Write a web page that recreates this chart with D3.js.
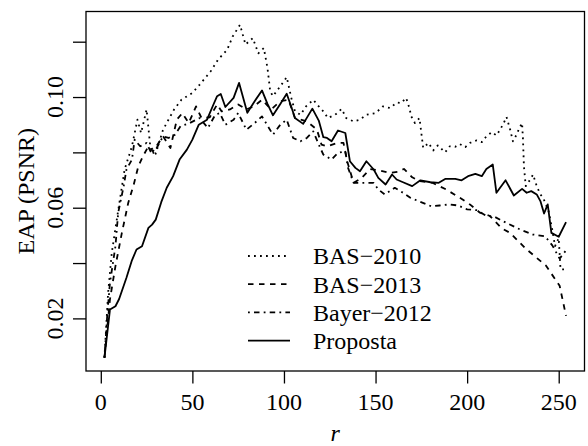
<!DOCTYPE html>
<html>
<head>
<meta charset="utf-8">
<script src="https://cdn.jsdelivr.net/npm/d3@7"></script>
</head>
<body style="margin:0">
<svg id="chart" width="588" height="446"></svg>
<script>
// values, one r array per series
var bas2010R = [2, 4, 6, 9, 13, 17, 20, 22, 25, 27, 30, 34, 40, 44, 50, 54, 60, 64, 69, 72, 76, 79, 83, 86, 89, 91, 92.5, 94, 98, 101.5, 104, 106, 109, 112, 116, 119, 121.5, 124, 128, 131.5, 134, 138, 141.5, 145, 150, 154, 158, 161.5, 164, 166.7, 168.5, 169.5, 171.5, 174, 175, 176, 179, 181.5, 184, 188, 190.5, 193.5, 196, 199, 201.5, 205, 208, 210.5, 213.5, 216, 218, 220, 221.5, 223.5, 225, 227, 228.5, 230, 230.5, 231, 232, 234.5, 236, 238, 240, 241.5, 244.5, 246.5, 248, 250, 251, 254];
var bas2010V = [0.0058, 0.0293, 0.0437, 0.0569, 0.0738, 0.0822, 0.0918, 0.087, 0.0955, 0.0822, 0.0795, 0.0882, 0.0955, 0.099, 0.1015, 0.1045, 0.1093, 0.1135, 0.1171, 0.1219, 0.1261, 0.119, 0.1213, 0.1158, 0.1177, 0.1105, 0.102, 0.1003, 0.1039, 0.1072, 0.0997, 0.0948, 0.0936, 0.0966, 0.099, 0.0966, 0.0948, 0.0924, 0.0936, 0.0957, 0.0924, 0.0912, 0.0918, 0.0936, 0.0942, 0.0966, 0.096, 0.098, 0.0978, 0.0997, 0.096, 0.093, 0.0906, 0.0924, 0.087, 0.0816, 0.0834, 0.0807, 0.0825, 0.08, 0.0822, 0.082, 0.083, 0.0819, 0.0834, 0.0843, 0.0837, 0.0858, 0.0873, 0.0861, 0.0882, 0.0906, 0.0928, 0.0882, 0.084, 0.0864, 0.0888, 0.0906, 0.0846, 0.075, 0.0678, 0.0702, 0.072, 0.0678, 0.0648, 0.0636, 0.0587, 0.052, 0.0461, 0.049, 0.0377, 0.0377];

var bas2013R = [2, 5, 8, 11.5, 15, 18, 20.5, 23, 26, 28.5, 31.5, 34, 38, 41.5, 44.5, 48, 52, 55, 59.5, 63.5, 66, 70.5, 75, 79.5, 83.5, 88, 93, 98, 102.5, 106, 112.5, 118, 120.5, 123.5, 129, 132.5, 134.5, 138, 142, 147, 152, 158, 162, 165.5, 170, 174, 181, 188.5, 196, 201.5, 207, 212.5, 219, 223.5, 232, 243, 250.5, 254];
var bas2013V = [0.0058, 0.0269, 0.0389, 0.0509, 0.0618, 0.0684, 0.075, 0.0786, 0.0822, 0.0804, 0.0834, 0.0858, 0.0816, 0.0918, 0.0942, 0.0906, 0.0966, 0.0924, 0.0927, 0.0973, 0.0948, 0.0955, 0.0973, 0.0955, 0.0966, 0.099, 0.0955, 0.0985, 0.099, 0.0924, 0.0912, 0.0882, 0.0828, 0.0822, 0.0834, 0.0834, 0.0768, 0.069, 0.0705, 0.074, 0.0735, 0.0726, 0.073, 0.074, 0.071, 0.0696, 0.069, 0.0666, 0.0636, 0.0612, 0.0582, 0.057, 0.0525, 0.0509, 0.0452, 0.0391, 0.0318, 0.0209];

var bayerR = [2, 3.5, 5, 8, 9.5, 12.5, 14, 17, 18.5, 21.5, 25, 28, 30.5, 34, 37, 40.5, 43.5, 48.5, 54, 58.5, 62.5, 65, 68, 72.5, 75, 79.5, 84, 88, 94, 98, 101.5, 105, 109, 112.5, 116, 119, 121.5, 126, 129.5, 133.5, 135, 138, 143.5, 149, 151.5, 155, 160.5, 165, 169, 173.5, 180.5, 185, 190.5, 195, 200, 205.5, 210, 215, 221.5, 229, 236, 242.5, 246.5, 250.5, 254];
var bayerV = [0.0058, 0.021, 0.0329, 0.0461, 0.0582, 0.0678, 0.0738, 0.0774, 0.0846, 0.0822, 0.0834, 0.0792, 0.0816, 0.0858, 0.0852, 0.0864, 0.0894, 0.0906, 0.0924, 0.0888, 0.0936, 0.0942, 0.09, 0.0918, 0.0942, 0.0882, 0.0906, 0.093, 0.0864, 0.09, 0.0918, 0.0852, 0.084, 0.0852, 0.0876, 0.0828, 0.0792, 0.0774, 0.0798, 0.0804, 0.0744, 0.069, 0.069, 0.069, 0.0666, 0.0648, 0.0672, 0.0654, 0.0636, 0.0624, 0.0605, 0.0608, 0.0612, 0.0608, 0.0594, 0.0591, 0.0572, 0.0567, 0.0545, 0.0521, 0.0503, 0.0497, 0.0464, 0.0416, 0.0446];

var propostaR = [2, 5, 8, 10, 14, 17, 19.5, 22.5, 26, 28, 30, 33, 36, 39.5, 43, 47, 50, 53.5, 58, 61.5, 63.5, 65.5, 68, 72.5, 75.5, 80, 84, 88, 91, 94, 98, 101.5, 104, 106, 110.5, 115.5, 119, 121.5, 123.5, 126, 129.5, 133.5, 136, 139, 141.5, 145, 149, 151.5, 155.5, 159, 161.5, 165, 170, 174.5, 180, 184.5, 188, 193.5, 197, 200.5, 204.5, 208, 210.5, 214, 216, 221, 225.5, 230, 232.5, 235, 238, 240, 242, 244, 246, 250, 254];
var propostaV = [0.0058, 0.0232, 0.0244, 0.027, 0.0347, 0.041, 0.0449, 0.0461, 0.0527, 0.0539, 0.0557, 0.062, 0.0672, 0.0714, 0.0774, 0.081, 0.0846, 0.09, 0.0918, 0.0973, 0.1003, 0.1011, 0.0964, 0.0997, 0.1051, 0.0943, 0.0985, 0.1024, 0.0975, 0.0934, 0.0975, 0.1012, 0.0965, 0.0924, 0.0903, 0.0958, 0.0915, 0.0855, 0.0852, 0.084, 0.0879, 0.087, 0.0768, 0.0744, 0.0732, 0.0768, 0.0738, 0.0708, 0.0684, 0.072, 0.0702, 0.0692, 0.0678, 0.0699, 0.0692, 0.069, 0.0704, 0.0704, 0.0699, 0.0714, 0.0722, 0.0714, 0.074, 0.0756, 0.0654, 0.0699, 0.0644, 0.0668, 0.0654, 0.066, 0.0648, 0.0624, 0.0579, 0.0612, 0.0509, 0.0495, 0.0548];

var seriesNames = ["BAS\u22122010", "BAS\u22122013", "Bayer\u22122012", "Proposta"];
var xTicks = [0, 50, 100, 150, 200, 250];
var yTicks = [0.02, 0.04, 0.06, 0.08, 0.10, 0.12];
var yLabelled = [0.02, 0.06, 0.10];

var fontFamily = "Liberation Serif";
var fontSize = 24;

function zip(rs, vs) {
	return rs.map(function(r, i) { return { r: r, v: vs[i] }; });
}

var series = [
	{ name: seriesNames[0], data: zip(bas2010R, bas2010V), dash: "1.8 4.2" },
	{ name: seriesNames[1], data: zip(bas2013R, bas2013V), dash: "5.5 5.5" },
	{ name: seriesNames[2], data: zip(bayerR, bayerV), dash: "1.8 4.2 5.5 4.2" },
	{ name: seriesNames[3], data: zip(propostaR, propostaV), dash: null }
];

var svg = d3.select("#chart");
var box = { left: 86, right: 584.5, top: 11.5, bottom: 371 };

// R style: 4% padding around the data range
var allR = [].concat(bas2010R, bas2013R, bayerR, propostaR);
var allV = [].concat(bas2010V, bas2013V, bayerV, propostaV);
var rExt = d3.extent(allR), vExt = d3.extent(allV);
var rPad = (rExt[1] - rExt[0]) * 0.04, vPad = (vExt[1] - vExt[0]) * 0.04;

var x = d3.scaleLinear().domain([rExt[0] - rPad, rExt[1] + rPad]).range([box.left, box.right]);
var y = d3.scaleLinear().domain([vExt[0] - vPad, vExt[1] + vPad]).range([box.bottom, box.top]);

var line = d3.line()
	.x(function(d) { return x(d.r); })
	.y(function(d) { return y(d.v); });

var g_lines = svg.append("g").attr("id", "lines");
series.forEach(function(s) {
	g_lines.append("path")
		.attr("d", line(s.data))
		.attr("fill", "none")
		.attr("stroke", "#000")
		.attr("stroke-width", 1.8)
		.attr("stroke-linejoin", "round")
		.attr("stroke-dasharray", s.dash);
});

// axes: ticks drawn by d3, labels written as plain text elements
var xAxis = svg.append("g")
	.attr("transform", "translate(0," + box.bottom + ")")
	.call(d3.axisBottom(x).tickValues(xTicks).tickSize(12.5).tickSizeOuter(0).tickFormat(""));
xAxis.select(".domain").remove();
xAxis.selectAll("line").attr("stroke-width", 1.3);

svg.append("g").selectAll("text").data(xTicks).enter().append("text")
	.attr("x", function(d) { return x(d); })
	.attr("y", box.bottom + 39)
	.attr("text-anchor", "middle")
	.attr("font-family", fontFamily)
	.attr("font-size", fontSize)
	.text(function(d) { return d; });

var yAxis = svg.append("g")
	.attr("transform", "translate(" + box.left + ",0)")
	.call(d3.axisLeft(y).tickValues(yTicks).tickSize(13).tickSizeOuter(0).tickFormat(""));
yAxis.select(".domain").remove();
yAxis.selectAll("line").attr("stroke-width", 1.3);

svg.append("g").selectAll("text").data(yLabelled).enter().append("text")
	.attr("transform", function(d) { return "translate(" + (box.left - 23) + "," + y(d) + ") rotate(-90)"; })
	.attr("text-anchor", "middle")
	.attr("font-family", fontFamily)
	.attr("font-size", fontSize)
	.text(function(d) { return d3.format(".2f")(d); });

svg.append("rect")
	.attr("x", box.left).attr("y", box.top)
	.attr("width", box.right - box.left).attr("height", box.bottom - box.top)
	.attr("fill", "none").attr("stroke", "#000").attr("stroke-width", 1.3);

svg.append("text")
	.attr("transform", "translate(34," + ((box.top + box.bottom) / 2) + ") rotate(-90)")
	.attr("text-anchor", "middle")
	.attr("font-family", fontFamily)
	.attr("font-size", fontSize)
	.text("EAP (PSNR)");

svg.append("text")
	.attr("x", (box.left + box.right) / 2).attr("y", 441)
	.attr("text-anchor", "middle")
	.attr("font-family", fontFamily)
	.attr("font-size", fontSize)
	.attr("font-style", "italic")
	.text("r");

// legend
var legend = svg.append("g").attr("id", "legend");
var item = legend.selectAll("g").data(series).enter().append("g")
	.attr("transform", function(d, i) { return "translate(248," + (256 + i * 28.2) + ")"; });
item.append("line")
	.attr("x1", 0).attr("x2", 42).attr("y1", 0).attr("y2", 0)
	.attr("stroke", "#000").attr("stroke-width", 1.8)
	.attr("stroke-dasharray", function(d) { return d.dash; });
item.append("text")
	.attr("x", 65).attr("y", 8.3)
	.attr("font-family", fontFamily)
	.attr("font-size", fontSize)
	.text(function(d) { return d.name; });
</script>
</body>
</html>
